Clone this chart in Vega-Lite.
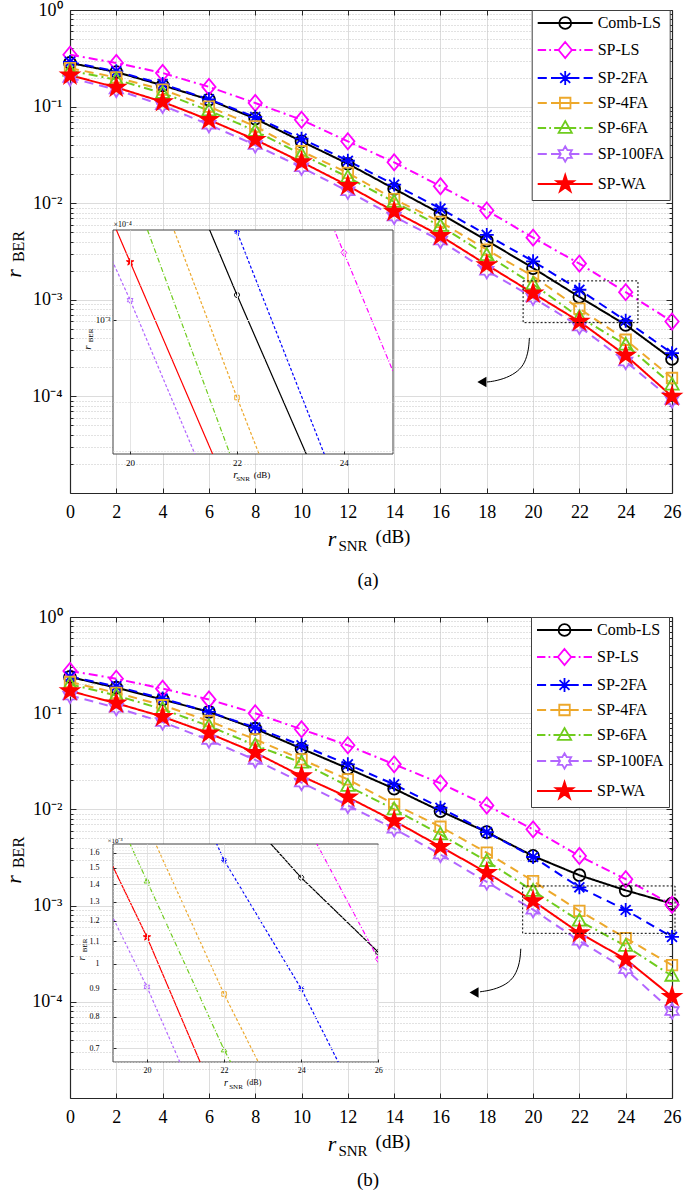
{
"$schema":"https://vega.github.io/schema/vega-lite/v6.json",
"padding":{"left":2,"top":1,"right":0,"bottom":0},
"config":{"font":"Liberation Serif","view":{"stroke":null},
 "axis":{"labelFont":"Liberation Serif","titleFont":"Liberation Serif","titleFontWeight":"normal","labelColor":"#000000","titleColor":"#000000","tickColor":"#262626","domainColor":"#262626","labelFlush":false,"labelOverlap":false,"labelBound":false,"titleAlign":"center","titleBaseline":"middle"}},
"datasets":{
"a":[
{"s":"Comb-LS","snr":0,"ber":0.283},{"s":"Comb-LS","snr":2,"ber":0.228},{"s":"Comb-LS","snr":4,"ber":0.166},{"s":"Comb-LS","snr":6,"ber":0.118},{"s":"Comb-LS","snr":8,"ber":0.075},{"s":"Comb-LS","snr":10,"ber":0.0437},{"s":"Comb-LS","snr":12,"ber":0.0256},{"s":"Comb-LS","snr":14,"ber":0.0141},{"s":"Comb-LS","snr":16,"ber":0.0078},{"s":"Comb-LS","snr":18,"ber":0.0041},{"s":"Comb-LS","snr":20,"ber":0.00213},{"s":"Comb-LS","snr":22,"ber":0.00107},{"s":"Comb-LS","snr":24,"ber":0.00055},{"s":"Comb-LS","snr":26,"ber":0.000244},
{"s":"SP-LS","snr":0,"ber":0.344},{"s":"SP-LS","snr":2,"ber":0.283},{"s":"SP-LS","snr":4,"ber":0.223},{"s":"SP-LS","snr":6,"ber":0.16},{"s":"SP-LS","snr":8,"ber":0.109},{"s":"SP-LS","snr":10,"ber":0.073},{"s":"SP-LS","snr":12,"ber":0.0437},{"s":"SP-LS","snr":14,"ber":0.0265},{"s":"SP-LS","snr":16,"ber":0.015},{"s":"SP-LS","snr":18,"ber":0.0084},{"s":"SP-LS","snr":20,"ber":0.0044},{"s":"SP-LS","snr":22,"ber":0.00237},{"s":"SP-LS","snr":24,"ber":0.0012},{"s":"SP-LS","snr":26,"ber":0.000596},
{"s":"SP-2FA","snr":0,"ber":0.29},{"s":"SP-2FA","snr":2,"ber":0.232},{"s":"SP-2FA","snr":4,"ber":0.171},{"s":"SP-2FA","snr":6,"ber":0.119},{"s":"SP-2FA","snr":8,"ber":0.078},{"s":"SP-2FA","snr":10,"ber":0.0466},{"s":"SP-2FA","snr":12,"ber":0.0275},{"s":"SP-2FA","snr":14,"ber":0.0156},{"s":"SP-2FA","snr":16,"ber":0.0088},{"s":"SP-2FA","snr":18,"ber":0.0047},{"s":"SP-2FA","snr":20,"ber":0.0025},{"s":"SP-2FA","snr":22,"ber":0.00127},{"s":"SP-2FA","snr":24,"ber":0.000607},{"s":"SP-2FA","snr":26,"ber":0.00028},
{"s":"SP-4FA","snr":0,"ber":0.25},{"s":"SP-4FA","snr":2,"ber":0.2},{"s":"SP-4FA","snr":4,"ber":0.15},{"s":"SP-4FA","snr":6,"ber":0.1},{"s":"SP-4FA","snr":8,"ber":0.0625},{"s":"SP-4FA","snr":10,"ber":0.0345},{"s":"SP-4FA","snr":12,"ber":0.0206},{"s":"SP-4FA","snr":14,"ber":0.011},{"s":"SP-4FA","snr":16,"ber":0.0064},{"s":"SP-4FA","snr":18,"ber":0.0033},{"s":"SP-4FA","snr":20,"ber":0.00175},{"s":"SP-4FA","snr":22,"ber":0.00081},{"s":"SP-4FA","snr":24,"ber":0.000386},{"s":"SP-4FA","snr":26,"ber":0.000155},
{"s":"SP-6FA","snr":0,"ber":0.235},{"s":"SP-6FA","snr":2,"ber":0.19},{"s":"SP-6FA","snr":4,"ber":0.138},{"s":"SP-6FA","snr":6,"ber":0.091},{"s":"SP-6FA","snr":8,"ber":0.056},{"s":"SP-6FA","snr":10,"ber":0.032},{"s":"SP-6FA","snr":12,"ber":0.0186},{"s":"SP-6FA","snr":14,"ber":0.0103},{"s":"SP-6FA","snr":16,"ber":0.0058},{"s":"SP-6FA","snr":18,"ber":0.0029},{"s":"SP-6FA","snr":20,"ber":0.00145},{"s":"SP-6FA","snr":22,"ber":0.00066},{"s":"SP-6FA","snr":24,"ber":0.000343},{"s":"SP-6FA","snr":26,"ber":0.000132},
{"s":"SP-100FA","snr":0,"ber":0.198},{"s":"SP-100FA","snr":2,"ber":0.15},{"s":"SP-100FA","snr":4,"ber":0.103},{"s":"SP-100FA","snr":6,"ber":0.065},{"s":"SP-100FA","snr":8,"ber":0.04},{"s":"SP-100FA","snr":10,"ber":0.0235},{"s":"SP-100FA","snr":12,"ber":0.0133},{"s":"SP-100FA","snr":14,"ber":0.0073},{"s":"SP-100FA","snr":16,"ber":0.0041},{"s":"SP-100FA","snr":18,"ber":0.002},{"s":"SP-100FA","snr":20,"ber":0.001055},{"s":"SP-100FA","snr":22,"ber":0.00053},{"s":"SP-100FA","snr":24,"ber":0.00023},{"s":"SP-100FA","snr":26,"ber":0.000092},
{"s":"SP-WA","snr":0,"ber":0.211},{"s":"SP-WA","snr":2,"ber":0.158},{"s":"SP-WA","snr":4,"ber":0.112},{"s":"SP-WA","snr":6,"ber":0.073},{"s":"SP-WA","snr":8,"ber":0.0455},{"s":"SP-WA","snr":10,"ber":0.0267},{"s":"SP-WA","snr":12,"ber":0.0152},{"s":"SP-WA","snr":14,"ber":0.0082},{"s":"SP-WA","snr":16,"ber":0.0046},{"s":"SP-WA","snr":18,"ber":0.0023},{"s":"SP-WA","snr":20,"ber":0.00117},{"s":"SP-WA","snr":22,"ber":0.000596},{"s":"SP-WA","snr":24,"ber":0.000266},{"s":"SP-WA","snr":26,"ber":0.0001}
],
"b":[
{"s":"Comb-LS","snr":0,"ber":0.238},{"s":"Comb-LS","snr":2,"ber":0.184},{"s":"Comb-LS","snr":4,"ber":0.139},{"s":"Comb-LS","snr":6,"ber":0.103},{"s":"Comb-LS","snr":8,"ber":0.069},{"s":"Comb-LS","snr":10,"ber":0.0428},{"s":"Comb-LS","snr":12,"ber":0.0267},{"s":"Comb-LS","snr":14,"ber":0.0164},{"s":"Comb-LS","snr":16,"ber":0.0096},{"s":"Comb-LS","snr":18,"ber":0.0058},{"s":"Comb-LS","snr":20,"ber":0.00328},{"s":"Comb-LS","snr":22,"ber":0.00207},{"s":"Comb-LS","snr":24,"ber":0.00144},{"s":"Comb-LS","snr":26,"ber":0.00105},
{"s":"SP-LS","snr":0,"ber":0.275},{"s":"SP-LS","snr":2,"ber":0.228},{"s":"SP-LS","snr":4,"ber":0.18},{"s":"SP-LS","snr":6,"ber":0.139},{"s":"SP-LS","snr":8,"ber":0.0998},{"s":"SP-LS","snr":10,"ber":0.068},{"s":"SP-LS","snr":12,"ber":0.0464},{"s":"SP-LS","snr":14,"ber":0.0294},{"s":"SP-LS","snr":16,"ber":0.0187},{"s":"SP-LS","snr":18,"ber":0.011},{"s":"SP-LS","snr":20,"ber":0.0062},{"s":"SP-LS","snr":22,"ber":0.00328},{"s":"SP-LS","snr":24,"ber":0.00188},{"s":"SP-LS","snr":26,"ber":0.00102},
{"s":"SP-2FA","snr":0,"ber":0.24},{"s":"SP-2FA","snr":2,"ber":0.19},{"s":"SP-2FA","snr":4,"ber":0.142},{"s":"SP-2FA","snr":6,"ber":0.103},{"s":"SP-2FA","snr":8,"ber":0.071},{"s":"SP-2FA","snr":10,"ber":0.0464},{"s":"SP-2FA","snr":12,"ber":0.0294},{"s":"SP-2FA","snr":14,"ber":0.0182},{"s":"SP-2FA","snr":16,"ber":0.0104},{"s":"SP-2FA","snr":18,"ber":0.0058},{"s":"SP-2FA","snr":20,"ber":0.0032},{"s":"SP-2FA","snr":22,"ber":0.00155},{"s":"SP-2FA","snr":24,"ber":0.0009},{"s":"SP-2FA","snr":26,"ber":0.000472},
{"s":"SP-4FA","snr":0,"ber":0.211},{"s":"SP-4FA","snr":2,"ber":0.163},{"s":"SP-4FA","snr":4,"ber":0.121},{"s":"SP-4FA","snr":6,"ber":0.083},{"s":"SP-4FA","snr":8,"ber":0.0535},{"s":"SP-4FA","snr":10,"ber":0.0331},{"s":"SP-4FA","snr":12,"ber":0.0205},{"s":"SP-4FA","snr":14,"ber":0.0113},{"s":"SP-4FA","snr":16,"ber":0.0066},{"s":"SP-4FA","snr":18,"ber":0.00355},{"s":"SP-4FA","snr":20,"ber":0.0018},{"s":"SP-4FA","snr":22,"ber":0.00088},{"s":"SP-4FA","snr":24,"ber":0.00046},{"s":"SP-4FA","snr":26,"ber":0.00024},
{"s":"SP-6FA","snr":0,"ber":0.2},{"s":"SP-6FA","snr":2,"ber":0.153},{"s":"SP-6FA","snr":4,"ber":0.11},{"s":"SP-6FA","snr":6,"ber":0.0736},{"s":"SP-6FA","snr":8,"ber":0.0463},{"s":"SP-6FA","snr":10,"ber":0.0306},{"s":"SP-6FA","snr":12,"ber":0.0175},{"s":"SP-6FA","snr":14,"ber":0.01},{"s":"SP-6FA","snr":16,"ber":0.0055},{"s":"SP-6FA","snr":18,"ber":0.0029},{"s":"SP-6FA","snr":20,"ber":0.00142},{"s":"SP-6FA","snr":22,"ber":0.000695},{"s":"SP-6FA","snr":24,"ber":0.00038},{"s":"SP-6FA","snr":26,"ber":0.000186},
{"s":"SP-100FA","snr":0,"ber":0.153},{"s":"SP-100FA","snr":2,"ber":0.114},{"s":"SP-100FA","snr":4,"ber":0.081},{"s":"SP-100FA","snr":6,"ber":0.0526},{"s":"SP-100FA","snr":8,"ber":0.0327},{"s":"SP-100FA","snr":10,"ber":0.019},{"s":"SP-100FA","snr":12,"ber":0.011},{"s":"SP-100FA","snr":14,"ber":0.0063},{"s":"SP-100FA","snr":16,"ber":0.0034},{"s":"SP-100FA","snr":18,"ber":0.00176},{"s":"SP-100FA","snr":20,"ber":0.000907},{"s":"SP-100FA","snr":22,"ber":0.00043},{"s":"SP-100FA","snr":24,"ber":0.000218},{"s":"SP-100FA","snr":26,"ber":0.00008},
{"s":"SP-WA","snr":0,"ber":0.17},{"s":"SP-WA","snr":2,"ber":0.127},{"s":"SP-WA","snr":4,"ber":0.092},{"s":"SP-WA","snr":6,"ber":0.0618},{"s":"SP-WA","snr":8,"ber":0.0389},{"s":"SP-WA","snr":10,"ber":0.0222},{"s":"SP-WA","snr":12,"ber":0.0134},{"s":"SP-WA","snr":14,"ber":0.0076},{"s":"SP-WA","snr":16,"ber":0.0041},{"s":"SP-WA","snr":18,"ber":0.0022},{"s":"SP-WA","snr":20,"ber":0.00112},{"s":"SP-WA","snr":22,"ber":0.00052},{"s":"SP-WA","snr":24,"ber":0.000277},{"s":"SP-WA","snr":26,"ber":0.000113}
],
"arrowA":[{"i":0,"x":19.84,"y":0.000403},{"i":1,"x":19.81,"y":0.000304},{"i":2,"x":19.65,"y":0.000222},{"i":3,"x":19.36,"y":0.000182},{"i":4,"x":18.86,"y":0.000155},{"i":5,"x":18.28,"y":0.000143},{"i":6,"x":18.01,"y":0.000141}],
"arrowB":[{"i":0,"x":19.47,"y":0.000356},{"i":1,"x":19.43,"y":0.000255},{"i":2,"x":19.22,"y":0.000185},{"i":3,"x":18.86,"y":0.000152},{"i":4,"x":18.28,"y":0.000133},{"i":5,"x":17.71,"y":0.000127}]
},
"concat":[
{
"width":280,"height":224,
"data":{"name":"a"},
"layer":[
 {"resolve":{"axis":{"x":"independent","y":"independent"}},
  "layer":[
  {"mark":{"type":"line","strokeWidth":2},
   "encoding":{
    "x":{"field":"snr","type":"quantitative","scale":{"domain":[0,26],"range":[-43,559],"nice":false,"zero":false},
      "axis":{"orient":"bottom","offset":39,"values":[0,2,4,6,8,10,12,14,16,18,20,22,24,26],"labelFontSize":18,"tickSize":-5,"labelPadding":15,"domainWidth":1.2,"grid":false,"title":"r","titleFontStyle":"italic","titleFontSize":22,"titleX":218.5,"titleY":45}},
    "y":{"field":"ber","type":"quantitative","scale":{"type":"log","domain":[0.00001,1],"range":[263,-220],"nice":false},
      "axis":{"orient":"left","offset":43,"values":[1,0.1,0.01,0.001,0.0001],"labelExpr":"datum.value > 0.5 ? '10\u2070' : datum.value > 0.05 ? '10\u207b\u00b9' : datum.value > 0.005 ? '10\u207b\u00b2' : datum.value > 0.0005 ? '10\u207b\u00b3' : '10\u207b\u2074'","labelFontSize":18,"tickSize":-6,"labelPadding":14,"domainWidth":1.2,"grid":true,"gridColor":"#dcdcdc","title":"r","titleFontStyle":"italic","titleFontSize":22,"titleAngle":-90,"titleX":-57,"titleY":43}},
    "stroke":{"field":"s","type":"nominal","scale":{"domain":["Comb-LS","SP-LS","SP-2FA","SP-4FA","SP-6FA","SP-100FA","SP-WA"],"range":["#000000","#FF00FF","#0000FF","#EDA82B","#6FCC1E","#B266FF","#FF0000"]},"legend":null},
    "strokeDash":{"field":"s","type":"nominal","scale":{"domain":["Comb-LS","SP-LS","SP-2FA","SP-4FA","SP-6FA","SP-100FA","SP-WA"],"range":[[1,0],[9,4,2,4],[9,6],[9,6],[9,4,2,4],[9,6],[1,0]]},"legend":null}
   }},
  {"mark":{"type":"point","size":196,"strokeWidth":1.8,"opacity":1},
   "encoding":{
    "x":{"field":"snr","type":"quantitative","scale":{"domain":[0,26],"range":[-43,559],"nice":false,"zero":false},
      "axis":{"orient":"bottom","offset":39,"domain":false,"ticks":false,"labels":false,"grid":false,"title":"SNR","titleFontSize":15,"titleX":239.5,"titleY":52}},
    "y":{"field":"ber","type":"quantitative","scale":{"type":"log","domain":[0.00001,1],"range":[263,-220],"nice":false},
      "axis":{"orient":"left","offset":43,"values":[0.00002,0.00003,0.00004,0.00005,0.00006,0.00007,0.00008,0.00009,0.0002,0.0003,0.0004,0.0005,0.0006,0.0007,0.0008,0.0009,0.002,0.003,0.004,0.005,0.006,0.007,0.008,0.009,0.02,0.03,0.04,0.05,0.06,0.07,0.08,0.09,0.2,0.3,0.4,0.5,0.6,0.7,0.8,0.9],"labels":false,"domain":false,"tickSize":-3,"grid":true,"gridColor":"#c4c4c4","gridDash":[1,2],"title":"BER","titleFontSize":16,"titleAngle":-90,"titleX":-52,"titleY":16}},
    "stroke":{"field":"s","type":"nominal","scale":{"domain":["Comb-LS","SP-LS","SP-2FA","SP-4FA","SP-6FA","SP-100FA","SP-WA"],"range":["#000000","#FF00FF","#0000FF","#EDA82B","#6FCC1E","#B266FF","#FF0000"]},"legend":null},
    "fill":{"field":"s","type":"nominal","scale":{"domain":["Comb-LS","SP-LS","SP-2FA","SP-4FA","SP-6FA","SP-100FA","SP-WA"],"range":["transparent","transparent","transparent","transparent","transparent","transparent","#FF0000"]},"legend":null},
    "shape":{"field":"s","type":"nominal","scale":{"domain":["Comb-LS","SP-LS","SP-2FA","SP-4FA","SP-6FA","SP-100FA","SP-WA"],"range":["M0.85,0A0.85,0.85 0 1,1 -0.85,0A0.85,0.85 0 1,1 0.85,0Z","M0,-1.15L0.95,0L0,1.15L-0.95,0Z","M-1,0H1M0,-1V1M-0.71,-0.71L0.71,0.71M-0.71,0.71L0.71,-0.71","M-0.75,-0.75H0.75V0.75H-0.75Z","M0,-1L0.95,0.7H-0.95Z","M0,-1.1L0.3175,-0.55L0.9526,-0.55L0.635,0L0.9526,0.55L0.3175,0.55L0,1.1L-0.3175,0.55L-0.9526,0.55L-0.635,0L-0.9526,-0.55L-0.3175,-0.55Z","M0,-1.3L0.2919,-0.4018L1.2364,-0.4017L0.4723,0.1535L0.7641,1.0517L0,0.4966L-0.7641,1.0517L-0.4723,0.1535L-1.2364,-0.4017L-0.2919,-0.4018Z"]},"legend":null}
   }},
  {"data":{"values":[{}]},
   "mark":{"type":"rect","fill":"transparent","stroke":"#000000","strokeDash":[2,2],"strokeWidth":1},
   "encoding":{
    "x":{"datum":19.57,"type":"quantitative","scale":{"domain":[0,26],"range":[-43,559],"nice":false,"zero":false},
      "axis":{"orient":"bottom","offset":39,"domain":false,"ticks":false,"labels":false,"grid":false,"title":"(dB)","titleFontSize":19,"titleX":279.5,"titleY":43}},
    "x2":{"datum":24.53},
    "y":{"datum":0.00157,"type":"quantitative","scale":{"type":"log","domain":[0.00001,1],"range":[263,-220],"nice":false},
      "axis":{"orient":"right","offset":279,"values":[1,0.1,0.01,0.001,0.0001],"labels":false,"tickSize":-6,"domainWidth":1.2,"grid":false,"title":null}},
    "y2":{"datum":0.00058}
   }},
  {"data":{"name":"arrowA"},
   "mark":{"type":"line","interpolate":"basis","strokeWidth":1,"color":"#000000"},
   "encoding":{
    "x":{"field":"x","type":"quantitative","scale":{"domain":[0,26],"range":[-43,559],"nice":false,"zero":false},
      "axis":{"orient":"bottom","offset":39,"domain":false,"ticks":false,"labels":false,"grid":false,"title":"(a)","titleFontSize":19,"titleX":254.5,"titleY":86}},
    "y":{"field":"y","type":"quantitative","scale":{"type":"log","domain":[0.00001,1],"range":[263,-220],"nice":false},
      "axis":{"orient":"right","offset":279,"values":[0.00002,0.00003,0.00004,0.00005,0.00006,0.00007,0.00008,0.00009,0.0002,0.0003,0.0004,0.0005,0.0006,0.0007,0.0008,0.0009,0.002,0.003,0.004,0.005,0.006,0.007,0.008,0.009,0.02,0.03,0.04,0.05,0.06,0.07,0.08,0.09,0.2,0.3,0.4,0.5,0.6,0.7,0.8,0.9],"labels":false,"domain":false,"tickSize":-3,"grid":false,"title":null}},
    "order":{"field":"i","type":"quantitative"}
   }},
  {"data":{"values":[{}]},
   "mark":{"type":"point","shape":"triangle-left","filled":true,"color":"#000000","size":110,"opacity":1},
   "encoding":{
    "x":{"datum":17.79,"type":"quantitative","scale":{"domain":[0,26],"range":[-43,559],"nice":false,"zero":false},
      "axis":{"orient":"top","offset":220,"values":[0,2,4,6,8,10,12,14,16,18,20,22,24,26],"labels":false,"tickSize":-5,"domainWidth":1.2,"grid":true,"gridColor":"#dcdcdc","title":null}},
    "y":{"datum":0.000141,"type":"quantitative","scale":{"type":"log","domain":[0.00001,1],"range":[263,-220],"nice":false},"axis":null}
   }}
  ]},
 {"resolve":{"axis":{"x":"independent","y":"independent"}},
  "layer":[
  {"data":{"values":[{}]},
   "mark":{"type":"rect","fill":"#ffffff","stroke":"#404040","strokeWidth":1},
   "encoding":{
    "x":{"datum":19.68,"type":"quantitative","scale":{"domain":[19.68,24.92],"nice":false,"zero":false},
      "axis":{"orient":"bottom","zindex":1,"values":[20,22,24],"labelFontSize":9,"tickSize":-3,"labelPadding":7,"domain":false,"grid":true,"gridColor":"#e4e4e4","title":"r","titleFontStyle":"italic","titleFontSize":11,"titleX":122,"titleY":20}},
    "x2":{"datum":24.92},
    "y":{"datum":0.000695,"type":"quantitative","scale":{"type":"log","domain":[0.000695,0.001276],"nice":false},
      "axis":{"orient":"left","zindex":1,"values":[0.001],"labelExpr":"'10\u207b\u00b3'","labelFontSize":9,"tickSize":-3,"labelPadding":6,"domain":false,"grid":true,"gridColor":"#e4e4e4","title":"\u00d710\u207b\u2074","titleAngle":0,"titleAlign":"left","titleBaseline":"bottom","titleFontSize":8,"titleX":0,"titleY":-2}},
    "y2":{"datum":0.001276}
   }},
  {"mark":{"type":"line","strokeWidth":1.2,"clip":true},
   "encoding":{
    "x":{"field":"snr","type":"quantitative","scale":{"domain":[19.68,24.92],"nice":false,"zero":false},
      "axis":{"orient":"bottom","zindex":1,"domain":false,"ticks":false,"labels":false,"grid":false,"title":"SNR","titleFontSize":7,"titleX":129.5,"titleY":24}},
    "y":{"field":"ber","type":"quantitative","scale":{"type":"log","domain":[0.000695,0.001276],"nice":false},
      "axis":{"orient":"left","zindex":1,"values":[0.0007,0.0008,0.0009,0.0011,0.0012],"labels":false,"ticks":false,"domain":false,"grid":true,"gridColor":"#d0d0d0","gridDash":[1,2],"title":"r","titleFontStyle":"italic","titleFontSize":11,"titleAngle":-90,"titleX":-26,"titleY":117}},
    "stroke":{"field":"s","type":"nominal","scale":{"domain":["Comb-LS","SP-LS","SP-2FA","SP-4FA","SP-6FA","SP-100FA","SP-WA"],"range":["#000000","#FF00FF","#0000FF","#EDA82B","#6FCC1E","#B266FF","#FF0000"]},"legend":null},
    "strokeDash":{"field":"s","type":"nominal","scale":{"domain":["Comb-LS","SP-LS","SP-2FA","SP-4FA","SP-6FA","SP-100FA","SP-WA"],"range":[[1,0],[5,2,1,2],[3,2],[3,2],[5,2,1,2],[3,2],[1,0]]},"legend":null}
   }},
  {"mark":{"type":"point","size":36,"strokeWidth":1,"opacity":1,"clip":true},
   "encoding":{
    "x":{"field":"snr","type":"quantitative","scale":{"domain":[19.68,24.92],"nice":false,"zero":false},
      "axis":{"orient":"bottom","zindex":1,"domain":false,"ticks":false,"labels":false,"grid":false,"title":"(dB)","titleFontSize":9,"titleX":148.5,"titleY":20}},
    "y":{"field":"ber","type":"quantitative","scale":{"type":"log","domain":[0.000695,0.001276],"nice":false},
      "axis":{"orient":"left","zindex":1,"labels":false,"ticks":false,"domain":false,"grid":false,"title":"BER","titleFontSize":7,"titleAngle":-90,"titleX":-23,"titleY":105}},
    "stroke":{"field":"s","type":"nominal","scale":{"domain":["Comb-LS","SP-LS","SP-2FA","SP-4FA","SP-6FA","SP-100FA","SP-WA"],"range":["#000000","#FF00FF","#0000FF","#EDA82B","#6FCC1E","#B266FF","#FF0000"]},"legend":null},
    "fill":{"field":"s","type":"nominal","scale":{"domain":["Comb-LS","SP-LS","SP-2FA","SP-4FA","SP-6FA","SP-100FA","SP-WA"],"range":["transparent","transparent","transparent","transparent","transparent","transparent","#FF0000"]},"legend":null},
    "shape":{"field":"s","type":"nominal","scale":{"domain":["Comb-LS","SP-LS","SP-2FA","SP-4FA","SP-6FA","SP-100FA","SP-WA"],"range":["M0.85,0A0.85,0.85 0 1,1 -0.85,0A0.85,0.85 0 1,1 0.85,0Z","M0,-1.15L0.95,0L0,1.15L-0.95,0Z","M-1,0H1M0,-1V1M-0.71,-0.71L0.71,0.71M-0.71,0.71L0.71,-0.71","M-0.75,-0.75H0.75V0.75H-0.75Z","M0,-1L0.95,0.7H-0.95Z","M0,-1.1L0.3175,-0.55L0.9526,-0.55L0.635,0L0.9526,0.55L0.3175,0.55L0,1.1L-0.3175,0.55L-0.9526,0.55L-0.635,0L-0.9526,-0.55L-0.3175,-0.55Z","M0,-1.3L0.2919,-0.4018L1.2364,-0.4017L0.4723,0.1535L0.7641,1.0517L0,0.4966L-0.7641,1.0517L-0.4723,0.1535L-1.2364,-0.4017L-0.2919,-0.4018Z"]},"legend":null}
   }}
  ]},
 {"transform":[{"filter":"false"}],
  "mark":{"type":"point","opacity":1},
  "encoding":{
   "stroke":{"field":"s","type":"nominal","scale":{"domain":["Comb-LS","SP-LS","SP-2FA","SP-4FA","SP-6FA","SP-100FA","SP-WA"],"range":["#000000","#FF00FF","#0000FF","#EDA82B","#6FCC1E","#B266FF","#FF0000"]},
     "legend":{"orient":"none","legendX":418.7,"legendY":-220,"title":null,"symbolSize":196,"symbolStrokeWidth":1.8,"labelFont":"Liberation Serif","labelFontSize":16,"labelColor":"#000000","labelOffset":45,"rowPadding":5,"padding":5,"strokeColor":"#404040","fillColor":"#ffffff","zindex":1,"symbolOpacity":1}},
   "fill":{"field":"s","type":"nominal","scale":{"domain":["Comb-LS","SP-LS","SP-2FA","SP-4FA","SP-6FA","SP-100FA","SP-WA"],"range":["transparent","transparent","transparent","transparent","transparent","transparent","#FF0000"]},
     "legend":{"orient":"none","legendX":418.7,"legendY":-220,"title":null,"symbolSize":196,"symbolStrokeWidth":1.8,"labelFont":"Liberation Serif","labelFontSize":16,"labelColor":"#000000","labelOffset":45,"rowPadding":5,"padding":5,"strokeColor":"#404040","fillColor":"#ffffff","zindex":1,"symbolOpacity":1}},
   "shape":{"field":"s","type":"nominal","scale":{"domain":["Comb-LS","SP-LS","SP-2FA","SP-4FA","SP-6FA","SP-100FA","SP-WA"],"range":[
     "M-1,0H6.857M3.78,0A0.85,0.85 0 1,1 2.08,0A0.85,0.85 0 1,1 3.78,0Z",
     "M-1,0H0.2M0.65,0H0.9M1.35,0H1.98M3.88,0H4.5M4.96,0H5.21M5.66,0H6.857M2.93,-1.15L3.88,0L2.93,1.15L1.98,0Z",
     "M-1,0H0.3M0.9,0H2.2M3.66,0H4.96M5.56,0H6.857M1.93,0H3.93M2.93,-1V1M2.22,-0.71L3.64,0.71M2.22,0.71L3.64,-0.71",
     "M-1,0H0.3M0.9,0H4.96M5.56,0H6.857M2.18,-0.75H3.68V0.75H2.18Z",
     "M-1,0H0.2M0.65,0H0.9M1.35,0H4.5M4.96,0H5.21M5.66,0H6.857M2.93,-1L3.88,0.7H1.98Z",
     "M-1,0H0.3M0.9,0H2.2M3.66,0H4.96M5.56,0H6.857M2.93,-1.1L3.2475,-0.55L3.8826,-0.55L3.565,0L3.8826,0.55L3.2475,0.55L2.93,1.1L2.6125,0.55L1.9774,0.55L2.295,0L1.9774,-0.55L2.6125,-0.55Z",
     "M-1,0H6.857M2.93,-1.3L3.2219,-0.4018L4.1664,-0.4017L3.4023,0.1535L3.6941,1.0517L2.93,0.4966L2.1659,1.0517L2.4577,0.1535L1.6936,-0.4017L2.6381,-0.4018Z"]},
     "legend":{"orient":"none","legendX":418.7,"legendY":-220,"title":null,"symbolSize":196,"symbolStrokeWidth":1.8,"labelFont":"Liberation Serif","labelFontSize":16,"labelColor":"#000000","labelOffset":45,"rowPadding":5,"padding":5,"strokeColor":"#404040","fillColor":"#ffffff","zindex":1,"symbolOpacity":1}}
  }}
],
"resolve":{"scale":{"x":"independent","y":"independent","stroke":"independent","fill":"independent","shape":"independent","strokeDash":"independent"}}
},
{
"width":265.3,"height":218,
"data":{"name":"b"},
"layer":[
 {"resolve":{"axis":{"x":"independent","y":"independent"}},
  "layer":[
  {"mark":{"type":"line","strokeWidth":2},
   "encoding":{
    "x":{"field":"snr","type":"quantitative","scale":{"domain":[0,26],"range":[-43,559],"nice":false,"zero":false},
      "axis":{"orient":"bottom","offset":36,"values":[0,2,4,6,8,10,12,14,16,18,20,22,24,26],"labelFontSize":18,"tickSize":-5,"labelPadding":15,"domainWidth":1.2,"grid":false,"title":"r","titleFontStyle":"italic","titleFontSize":22,"titleX":218.5,"titleY":45}},
    "y":{"field":"ber","type":"quantitative","scale":{"type":"log","domain":[0.00001,1],"range":[254,-227],"nice":false},
      "axis":{"orient":"left","offset":43,"values":[1,0.1,0.01,0.001,0.0001],"labelExpr":"datum.value > 0.5 ? '10\u2070' : datum.value > 0.05 ? '10\u207b\u00b9' : datum.value > 0.005 ? '10\u207b\u00b2' : datum.value > 0.0005 ? '10\u207b\u00b3' : '10\u207b\u2074'","labelFontSize":18,"tickSize":-6,"labelPadding":14,"domainWidth":1.2,"grid":true,"gridColor":"#dcdcdc","title":"r","titleFontStyle":"italic","titleFontSize":22,"titleAngle":-90,"titleX":-57,"titleY":35}},
    "stroke":{"field":"s","type":"nominal","scale":{"domain":["Comb-LS","SP-LS","SP-2FA","SP-4FA","SP-6FA","SP-100FA","SP-WA"],"range":["#000000","#FF00FF","#0000FF","#EDA82B","#6FCC1E","#B266FF","#FF0000"]},"legend":null},
    "strokeDash":{"field":"s","type":"nominal","scale":{"domain":["Comb-LS","SP-LS","SP-2FA","SP-4FA","SP-6FA","SP-100FA","SP-WA"],"range":[[1,0],[9,4,2,4],[9,6],[9,6],[9,4,2,4],[9,6],[1,0]]},"legend":null}
   }},
  {"mark":{"type":"point","size":196,"strokeWidth":1.8,"opacity":1},
   "encoding":{
    "x":{"field":"snr","type":"quantitative","scale":{"domain":[0,26],"range":[-43,559],"nice":false,"zero":false},
      "axis":{"orient":"bottom","offset":36,"domain":false,"ticks":false,"labels":false,"grid":false,"title":"SNR","titleFontSize":15,"titleX":239.5,"titleY":52}},
    "y":{"field":"ber","type":"quantitative","scale":{"type":"log","domain":[0.00001,1],"range":[254,-227],"nice":false},
      "axis":{"orient":"left","offset":43,"values":[0.00002,0.00003,0.00004,0.00005,0.00006,0.00007,0.00008,0.00009,0.0002,0.0003,0.0004,0.0005,0.0006,0.0007,0.0008,0.0009,0.002,0.003,0.004,0.005,0.006,0.007,0.008,0.009,0.02,0.03,0.04,0.05,0.06,0.07,0.08,0.09,0.2,0.3,0.4,0.5,0.6,0.7,0.8,0.9],"labels":false,"domain":false,"tickSize":-3,"grid":true,"gridColor":"#c4c4c4","gridDash":[1,2],"title":"BER","titleFontSize":16,"titleAngle":-90,"titleX":-52,"titleY":8}},
    "stroke":{"field":"s","type":"nominal","scale":{"domain":["Comb-LS","SP-LS","SP-2FA","SP-4FA","SP-6FA","SP-100FA","SP-WA"],"range":["#000000","#FF00FF","#0000FF","#EDA82B","#6FCC1E","#B266FF","#FF0000"]},"legend":null},
    "fill":{"field":"s","type":"nominal","scale":{"domain":["Comb-LS","SP-LS","SP-2FA","SP-4FA","SP-6FA","SP-100FA","SP-WA"],"range":["transparent","transparent","transparent","transparent","transparent","transparent","#FF0000"]},"legend":null},
    "shape":{"field":"s","type":"nominal","scale":{"domain":["Comb-LS","SP-LS","SP-2FA","SP-4FA","SP-6FA","SP-100FA","SP-WA"],"range":["M0.85,0A0.85,0.85 0 1,1 -0.85,0A0.85,0.85 0 1,1 0.85,0Z","M0,-1.15L0.95,0L0,1.15L-0.95,0Z","M-1,0H1M0,-1V1M-0.71,-0.71L0.71,0.71M-0.71,0.71L0.71,-0.71","M-0.75,-0.75H0.75V0.75H-0.75Z","M0,-1L0.95,0.7H-0.95Z","M0,-1.1L0.3175,-0.55L0.9526,-0.55L0.635,0L0.9526,0.55L0.3175,0.55L0,1.1L-0.3175,0.55L-0.9526,0.55L-0.635,0L-0.9526,-0.55L-0.3175,-0.55Z","M0,-1.3L0.2919,-0.4018L1.2364,-0.4017L0.4723,0.1535L0.7641,1.0517L0,0.4966L-0.7641,1.0517L-0.4723,0.1535L-1.2364,-0.4017L-0.2919,-0.4018Z"]},"legend":null}
   }},
  {"data":{"values":[{}]},
   "mark":{"type":"rect","fill":"transparent","stroke":"#000000","strokeDash":[2,2],"strokeWidth":1},
   "encoding":{
    "x":{"datum":19.55,"type":"quantitative","scale":{"domain":[0,26],"range":[-43,559],"nice":false,"zero":false},
      "axis":{"orient":"bottom","offset":36,"domain":false,"ticks":false,"labels":false,"grid":false,"title":"(dB)","titleFontSize":19,"titleX":279.5,"titleY":43}},
    "x2":{"datum":26.13},
    "y":{"datum":0.0016,"type":"quantitative","scale":{"type":"log","domain":[0.00001,1],"range":[254,-227],"nice":false},
      "axis":{"orient":"right","offset":293.7,"values":[1,0.1,0.01,0.001,0.0001],"labels":false,"tickSize":-6,"domainWidth":1.2,"grid":false,"title":null}},
    "y2":{"datum":0.000515}
   }},
  {"data":{"name":"arrowB"},
   "mark":{"type":"line","interpolate":"basis","strokeWidth":1,"color":"#000000"},
   "encoding":{
    "x":{"field":"x","type":"quantitative","scale":{"domain":[0,26],"range":[-43,559],"nice":false,"zero":false},
      "axis":{"orient":"bottom","offset":36,"domain":false,"ticks":false,"labels":false,"grid":false,"title":"(b)","titleFontSize":19,"titleX":254.5,"titleY":81}},
    "y":{"field":"y","type":"quantitative","scale":{"type":"log","domain":[0.00001,1],"range":[254,-227],"nice":false},
      "axis":{"orient":"right","offset":293.7,"values":[0.00002,0.00003,0.00004,0.00005,0.00006,0.00007,0.00008,0.00009,0.0002,0.0003,0.0004,0.0005,0.0006,0.0007,0.0008,0.0009,0.002,0.003,0.004,0.005,0.006,0.007,0.008,0.009,0.02,0.03,0.04,0.05,0.06,0.07,0.08,0.09,0.2,0.3,0.4,0.5,0.6,0.7,0.8,0.9],"labels":false,"domain":false,"tickSize":-3,"grid":false,"title":null}},
    "order":{"field":"i","type":"quantitative"}
   }},
  {"data":{"values":[{}]},
   "mark":{"type":"point","shape":"triangle-left","filled":true,"color":"#000000","size":110,"opacity":1},
   "encoding":{
    "x":{"datum":17.45,"type":"quantitative","scale":{"domain":[0,26],"range":[-43,559],"nice":false,"zero":false},
      "axis":{"orient":"top","offset":227,"values":[0,2,4,6,8,10,12,14,16,18,20,22,24,26],"labels":false,"tickSize":-5,"domainWidth":1.2,"grid":true,"gridColor":"#dcdcdc","title":null}},
    "y":{"datum":0.000125,"type":"quantitative","scale":{"type":"log","domain":[0.00001,1],"range":[254,-227],"nice":false},"axis":null}
   }}
  ]},
 {"resolve":{"axis":{"x":"independent","y":"independent"}},
  "layer":[
  {"data":{"values":[{}]},
   "mark":{"type":"rect","fill":"#ffffff","stroke":"#404040","strokeWidth":1},
   "encoding":{
    "x":{"datum":19.12,"type":"quantitative","scale":{"domain":[19.12,26],"nice":false,"zero":false},
      "axis":{"orient":"bottom","zindex":1,"values":[20,22,24,26],"labelFontSize":8,"tickSize":-3,"labelPadding":7,"domain":false,"grid":true,"gridColor":"#e4e4e4","title":"r","titleFontStyle":"italic","titleFontSize":10,"titleX":112.5,"titleY":20}},
    "x2":{"datum":26},
    "y":{"datum":0.00066,"type":"quantitative","scale":{"type":"log","domain":[0.00066,0.00166],"nice":false},
      "axis":{"orient":"left","zindex":1,"values":[0.0007,0.0008,0.0009,0.001,0.0011,0.0012,0.0013,0.0014,0.0015,0.0016],"labelExpr":"format(datum.value*1000, '.1~f')","labelFontSize":8,"tickSize":-3,"labelPadding":17,"domain":false,"grid":true,"gridColor":"#dedede","title":"\u00d710\u207b\u00b3","titleAngle":0,"titleAlign":"left","titleBaseline":"bottom","titleFontSize":7,"titleX":-6,"titleY":-1}},
    "y2":{"datum":0.00166}
   }},
  {"mark":{"type":"line","strokeWidth":1.2,"clip":true},
   "encoding":{
    "x":{"field":"snr","type":"quantitative","scale":{"domain":[19.12,26],"nice":false,"zero":false},
      "axis":{"orient":"bottom","zindex":1,"domain":false,"ticks":false,"labels":false,"grid":false,"title":"SNR","titleFontSize":7,"titleX":122.5,"titleY":24}},
    "y":{"field":"ber","type":"quantitative","scale":{"type":"log","domain":[0.00066,0.00166],"nice":false},
      "axis":{"orient":"left","zindex":1,"values":[0.00066,0.00068,0.00072,0.00074,0.00076,0.00078,0.00082,0.00084,0.00086,0.00088,0.00092,0.00094,0.00096,0.00098,0.00102,0.00104,0.00106,0.00108,0.00112,0.00114,0.00116,0.00118,0.00122,0.00124,0.00126,0.00128,0.00132,0.00134,0.00136,0.00138,0.00142,0.00144,0.00146,0.00148,0.00152,0.00154,0.00156,0.00158,0.00162,0.00164],"labels":false,"ticks":false,"domain":false,"grid":true,"gridColor":"#e0e0e0","gridDash":[1,2],"title":"r","titleFontStyle":"italic","titleFontSize":10,"titleAngle":-90,"titleX":-32,"titleY":114}},
    "stroke":{"field":"s","type":"nominal","scale":{"domain":["Comb-LS","SP-LS","SP-2FA","SP-4FA","SP-6FA","SP-100FA","SP-WA"],"range":["#000000","#FF00FF","#0000FF","#EDA82B","#6FCC1E","#B266FF","#FF0000"]},"legend":null},
    "strokeDash":{"field":"s","type":"nominal","scale":{"domain":["Comb-LS","SP-LS","SP-2FA","SP-4FA","SP-6FA","SP-100FA","SP-WA"],"range":[[1,0],[5,2,1,2],[3,2],[3,2],[5,2,1,2],[3,2],[1,0]]},"legend":null}
   }},
  {"mark":{"type":"point","size":36,"strokeWidth":1,"opacity":1,"clip":true},
   "encoding":{
    "x":{"field":"snr","type":"quantitative","scale":{"domain":[19.12,26],"nice":false,"zero":false},
      "axis":{"orient":"bottom","zindex":1,"domain":false,"ticks":false,"labels":false,"grid":false,"title":"(dB)","titleFontSize":8,"titleX":140.5,"titleY":20}},
    "y":{"field":"ber","type":"quantitative","scale":{"type":"log","domain":[0.00066,0.00166],"nice":false},
      "axis":{"orient":"left","zindex":1,"labels":false,"ticks":false,"domain":false,"grid":false,"title":"BER","titleFontSize":7,"titleAngle":-90,"titleX":-29,"titleY":101}},
    "stroke":{"field":"s","type":"nominal","scale":{"domain":["Comb-LS","SP-LS","SP-2FA","SP-4FA","SP-6FA","SP-100FA","SP-WA"],"range":["#000000","#FF00FF","#0000FF","#EDA82B","#6FCC1E","#B266FF","#FF0000"]},"legend":null},
    "fill":{"field":"s","type":"nominal","scale":{"domain":["Comb-LS","SP-LS","SP-2FA","SP-4FA","SP-6FA","SP-100FA","SP-WA"],"range":["transparent","transparent","transparent","transparent","transparent","transparent","#FF0000"]},"legend":null},
    "shape":{"field":"s","type":"nominal","scale":{"domain":["Comb-LS","SP-LS","SP-2FA","SP-4FA","SP-6FA","SP-100FA","SP-WA"],"range":["M0.85,0A0.85,0.85 0 1,1 -0.85,0A0.85,0.85 0 1,1 0.85,0Z","M0,-1.15L0.95,0L0,1.15L-0.95,0Z","M-1,0H1M0,-1V1M-0.71,-0.71L0.71,0.71M-0.71,0.71L0.71,-0.71","M-0.75,-0.75H0.75V0.75H-0.75Z","M0,-1L0.95,0.7H-0.95Z","M0,-1.1L0.3175,-0.55L0.9526,-0.55L0.635,0L0.9526,0.55L0.3175,0.55L0,1.1L-0.3175,0.55L-0.9526,0.55L-0.635,0L-0.9526,-0.55L-0.3175,-0.55Z","M0,-1.3L0.2919,-0.4018L1.2364,-0.4017L0.4723,0.1535L0.7641,1.0517L0,0.4966L-0.7641,1.0517L-0.4723,0.1535L-1.2364,-0.4017L-0.2919,-0.4018Z"]},"legend":null}
   }}
  ]},
 {"transform":[{"filter":"false"}],
  "mark":{"type":"point","opacity":1},
  "encoding":{
   "stroke":{"field":"s","type":"nominal","scale":{"domain":["Comb-LS","SP-LS","SP-2FA","SP-4FA","SP-6FA","SP-100FA","SP-WA"],"range":["#000000","#FF00FF","#0000FF","#EDA82B","#6FCC1E","#B266FF","#FF0000"]},
     "legend":{"orient":"none","legendX":418,"legendY":-227,"title":null,"symbolSize":196,"symbolStrokeWidth":1.8,"labelFont":"Liberation Serif","labelFontSize":16,"labelColor":"#000000","labelOffset":45,"rowPadding":5,"padding":5,"strokeColor":"#404040","fillColor":"#ffffff","zindex":1,"symbolOpacity":1}},
   "fill":{"field":"s","type":"nominal","scale":{"domain":["Comb-LS","SP-LS","SP-2FA","SP-4FA","SP-6FA","SP-100FA","SP-WA"],"range":["transparent","transparent","transparent","transparent","transparent","transparent","#FF0000"]},
     "legend":{"orient":"none","legendX":418,"legendY":-227,"title":null,"symbolSize":196,"symbolStrokeWidth":1.8,"labelFont":"Liberation Serif","labelFontSize":16,"labelColor":"#000000","labelOffset":45,"rowPadding":5,"padding":5,"strokeColor":"#404040","fillColor":"#ffffff","zindex":1,"symbolOpacity":1}},
   "shape":{"field":"s","type":"nominal","scale":{"domain":["Comb-LS","SP-LS","SP-2FA","SP-4FA","SP-6FA","SP-100FA","SP-WA"],"range":[
     "M-1,0H6.857M3.78,0A0.85,0.85 0 1,1 2.08,0A0.85,0.85 0 1,1 3.78,0Z",
     "M-1,0H0.2M0.65,0H0.9M1.35,0H1.98M3.88,0H4.5M4.96,0H5.21M5.66,0H6.857M2.93,-1.15L3.88,0L2.93,1.15L1.98,0Z",
     "M-1,0H0.3M0.9,0H2.2M3.66,0H4.96M5.56,0H6.857M1.93,0H3.93M2.93,-1V1M2.22,-0.71L3.64,0.71M2.22,0.71L3.64,-0.71",
     "M-1,0H0.3M0.9,0H4.96M5.56,0H6.857M2.18,-0.75H3.68V0.75H2.18Z",
     "M-1,0H0.2M0.65,0H0.9M1.35,0H4.5M4.96,0H5.21M5.66,0H6.857M2.93,-1L3.88,0.7H1.98Z",
     "M-1,0H0.3M0.9,0H2.2M3.66,0H4.96M5.56,0H6.857M2.93,-1.1L3.2475,-0.55L3.8826,-0.55L3.565,0L3.8826,0.55L3.2475,0.55L2.93,1.1L2.6125,0.55L1.9774,0.55L2.295,0L1.9774,-0.55L2.6125,-0.55Z",
     "M-1,0H6.857M2.93,-1.3L3.2219,-0.4018L4.1664,-0.4017L3.4023,0.1535L3.6941,1.0517L2.93,0.4966L2.1659,1.0517L2.4577,0.1535L1.6936,-0.4017L2.6381,-0.4018Z"]},
     "legend":{"orient":"none","legendX":418,"legendY":-227,"title":null,"symbolSize":196,"symbolStrokeWidth":1.8,"labelFont":"Liberation Serif","labelFontSize":16,"labelColor":"#000000","labelOffset":45,"rowPadding":5,"padding":5,"strokeColor":"#404040","fillColor":"#ffffff","zindex":1,"symbolOpacity":1}}
  }}
],
"resolve":{"scale":{"x":"independent","y":"independent","stroke":"independent","fill":"independent","shape":"independent","strokeDash":"independent"}}
}
],
"columns":1,
"spacing":-105,
"align":"none"
}
